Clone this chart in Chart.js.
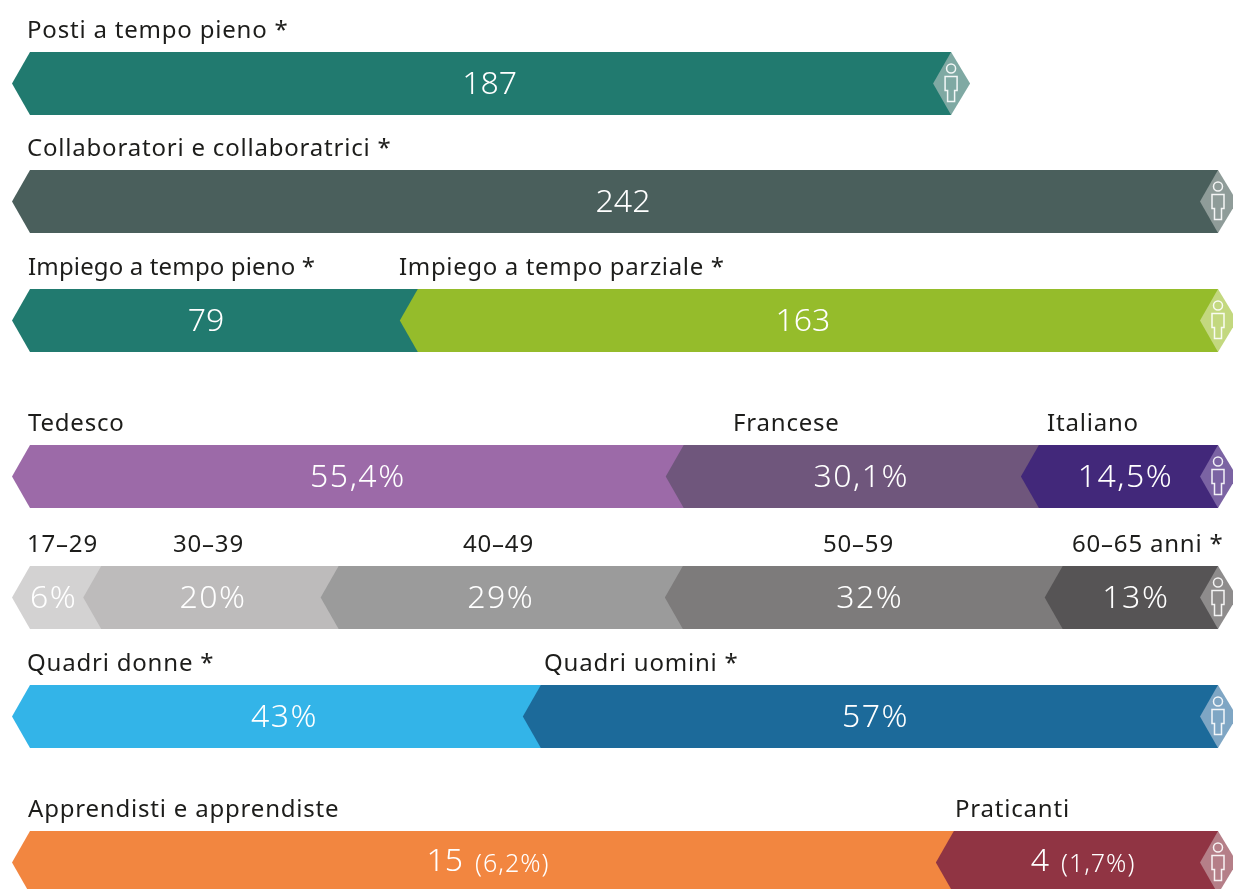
<!DOCTYPE html>
<html>
<head>
<meta charset="utf-8">
<script src="https://cdn.jsdelivr.net/npm/chart.js@4"></script>
<style>
  html, body { margin: 0; background: #fff; overflow: hidden; width: 1233px; height: 889px; }
  canvas { position: absolute; left: 0; }
</style>
</head>
<body>
<script>
// Values
const postsValues = [187];
const staffValues = [242];
const workloadValues = [79, 163];
const languageValues = [55.4, 30.1, 14.5];
const ageValues = [6, 20, 29, 32, 13];
const managerValues = [43, 57];
const traineeValues = [15, 4];

// Headings above the segments
const postsLabels = ['Posti a tempo pieno *'];
const staffLabels = ['Collaboratori e collaboratrici *'];
const workloadLabels = ['Impiego a tempo pieno *', 'Impiego a tempo parziale *'];
const languageLabels = ['Tedesco', 'Francese', 'Italiano'];
const ageLabels = ['17–29', '30–39', '40–49', '50–59', '60–65 anni *'];
const managerLabels = ['Quadri donne *', 'Quadri uomini *'];
const traineeLabels = ['Apprendisti e apprendiste', 'Praticanti'];

// Text inside the segments
const postsText = ['187'];
const staffText = ['242'];
const workloadText = ['79', '163'];
const languageText = ['55,4%', '30,1%', '14,5%'];
const ageText = ['6%', '20%', '29%', '32%', '13%'];
const managerText = ['43%', '57%'];
const traineeText = ['15', '4'];
const traineeNote = ['(6,2%)', '(1,7%)'];

const FONT = '"Noto Sans", sans-serif';
const ARROW = 18;
const CANVAS_W = 1233;
const BAR_H = 63;
const HEAD_H = 50;

// one chart per row, each has its own scale
const rows = [
  { top: 52, max: 242, end: 1204, values: postsValues, labels: postsLabels, text: postsText,
    colors: ['#217a6f'], icon: '#7fa9a3', labelX: [27], textDx: [17] },
  { top: 170, max: 242, end: 1200, values: staffValues, labels: staffLabels, text: staffText,
    colors: ['#4a5f5c'], icon: '#8f9c99', labelX: [27], textDx: [17] },
  { top: 289, max: 242, end: 1200, values: workloadValues, labels: workloadLabels, text: workloadText,
    colors: ['#217a6f', '#95bc2b'], icon: '#c3d87f', labelX: [28, 399], textDx: [0, 3], labelSpacing: [0.15, 0.65] },
  { top: 445, max: 100, end: 1192, iconX: 1200, values: languageValues, labels: languageLabels, text: languageText,
    colors: ['#9c6aa8', '#6f567c', '#42287a'], icon: '#7b63a3', labelX: [28, 733, 1047], textDx: [19, 18, 19] },
  { top: 566, max: 100, end: 1199, iconX: 1200, values: ageValues, labels: ageLabels, text: ageText,
    colors: ['#d3d2d2', '#bdbbbb', '#9b9b9b', '#7d7b7b', '#565455'], icon: '#8e8c8c', labelX: [27, 173, 463, 823, 1072], textDx: [6, 11, 8, 15, 14] },
  { top: 685, max: 100, end: 1200, values: managerValues, labels: managerLabels, text: managerText,
    colors: ['#33b4e8', '#1c6a9a'], icon: '#7fa6c4', labelX: [27, 544], textDx: [17, 14] },
  { top: 831, max: 19.24, end: 1197, iconX: 1200, textDy: -2, values: traineeValues, labels: traineeLabels, text: traineeText, note: traineeNote,
    colors: ['#f28640', '#903443'], icon: '#b57f88', labelX: [28, 955], textDx: [14, 24] }
];

function chevron(ctx, tip, right, y, h, color) {
  const top = y - h / 2;
  const bottom = y + h / 2;
  ctx.beginPath();
  ctx.moveTo(tip, y);
  ctx.lineTo(tip + ARROW, top);
  ctx.lineTo(right, top);
  ctx.lineTo(right, bottom);
  ctx.lineTo(tip + ARROW, bottom);
  ctx.closePath();
  ctx.fillStyle = color;
  ctx.fill();
}

function personIcon(ctx, tip, y, h, color) {
  const mid = tip + ARROW;
  ctx.beginPath();
  ctx.moveTo(tip, y);
  ctx.lineTo(mid, y - h / 2);
  ctx.lineTo(mid + ARROW + 1, y);
  ctx.lineTo(mid, y + h / 2);
  ctx.closePath();
  ctx.fillStyle = color;
  ctx.fill();
  // head and body outline
  ctx.strokeStyle = 'rgba(255,255,255,0.9)';
  ctx.lineWidth = 1.5;
  ctx.beginPath();
  ctx.arc(mid, y - 15, 4.5, 0, Math.PI * 2);
  ctx.stroke();
  ctx.beginPath();
  ctx.moveTo(mid - 6, y - 7);
  ctx.lineTo(mid + 6, y - 7);
  ctx.lineTo(mid + 6, y + 7);
  ctx.lineTo(mid + 3.5, y + 7);
  ctx.lineTo(mid + 3.5, y + 18);
  ctx.lineTo(mid - 3.5, y + 18);
  ctx.lineTo(mid - 3.5, y + 7);
  ctx.lineTo(mid - 6, y + 7);
  ctx.closePath();
  ctx.stroke();
}

const chevronPlugin = {
  id: 'chevrons',
  // we paint the bars ourselves, first segment first, so the next one overlaps it
  beforeDatasetDraw() { return false; },
  afterDatasetsDraw(chart, args, opts) {
    const ctx = chart.ctx;
    const row = opts.row;
    const metas = chart.getSortedVisibleDatasetMetas().sort((a, b) => a.index - b.index);
    const last = metas[metas.length - 1].data[0];
    const iconTip = row.iconX || last.x;

    metas.forEach((meta, i) => {
      const bar = meta.data[0];
      const right = i === metas.length - 1 ? iconTip + ARROW : metas[i + 1].data[0].x + ARROW;
      chevron(ctx, bar.base, right, bar.y, bar.height, row.colors[i]);
    });
    personIcon(ctx, iconTip, last.y, last.height, row.icon);

    ctx.textBaseline = 'middle';
    metas.forEach((meta, i) => {
      const bar = meta.data[0];
      // heading
      ctx.font = '24px ' + FONT;
      ctx.letterSpacing = (row.labelSpacing ? row.labelSpacing[i] : 0.8) + 'px';
      ctx.fillStyle = '#1d1d1b';
      ctx.textAlign = 'left';
      ctx.fillText(row.labels[i], row.labelX[i], bar.y - bar.height / 2 - 21);
      // value
      const cx = (bar.base + bar.x) / 2 + row.textDx[i];
      const cy = bar.y + 1 + (row.textDy || 0);
      ctx.fillStyle = '#fff';
      if (row.note) {
        ctx.letterSpacing = '0px';
        ctx.font = '300 32px ' + FONT;
        const w1 = ctx.measureText(row.text[i]).width;
        ctx.letterSpacing = '1px';
        ctx.font = '300 25px ' + FONT;
        const w2 = ctx.measureText(row.note[i]).width;
        const start = cx - (w1 + w2 + 12) / 2;
        ctx.fillText(row.note[i], start + w1 + 12, cy + 3);
        ctx.letterSpacing = '0px';
        ctx.font = '300 32px ' + FONT;
        ctx.fillText(row.text[i], start, cy);
      } else {
        ctx.letterSpacing = row.text[i].endsWith('%') ? '1.5px' : '0px';
        ctx.font = '300 32px ' + FONT;
        ctx.textAlign = 'center';
        ctx.fillText(row.text[i], cx, cy);
      }
    });
  }
};

rows.forEach(row => {
  const canvas = document.createElement('canvas');
  canvas.style.top = (row.top - HEAD_H) + 'px';
  canvas.width = CANVAS_W;
  canvas.height = HEAD_H + BAR_H;
  document.body.appendChild(canvas);

  new Chart(canvas.getContext('2d'), {
    type: 'bar',
    plugins: [chevronPlugin],
    data: {
      labels: [''],
      datasets: row.values.map((v, i) => ({
        label: row.labels[i],
        data: [v],
        backgroundColor: row.colors[i]
      }))
    },
    options: {
      indexAxis: 'y',
      responsive: false,
      animation: false,
      barPercentage: 1,
      categoryPercentage: 1,
      layout: { padding: { left: 12, right: CANVAS_W - row.end, top: HEAD_H, bottom: 0 } },
      scales: {
        x: { display: false, stacked: true, min: 0, max: row.max },
        y: { display: false, stacked: true }
      },
      plugins: {
        legend: { display: false },
        tooltip: { enabled: false },
        chevrons: { row: row }
      }
    }
  });
});
</script>
</body>
</html>
